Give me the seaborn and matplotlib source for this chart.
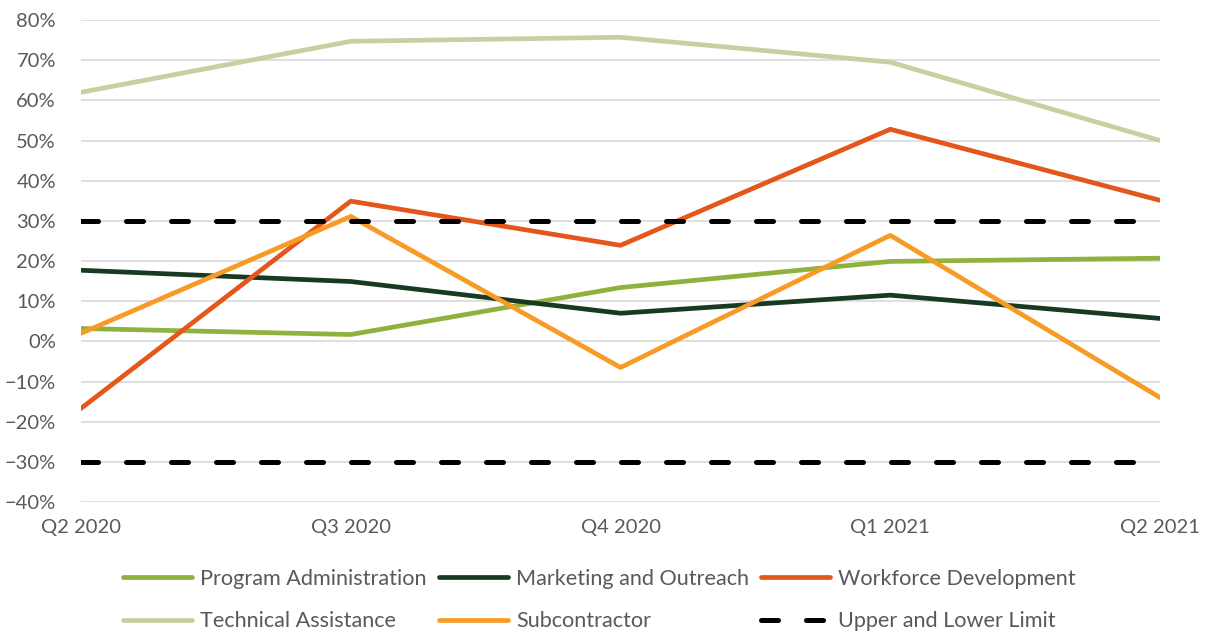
import pandas as pd
import numpy as np
import seaborn as sns
import matplotlib.pyplot as plt
from matplotlib.ticker import PercentFormatter

# quarters on the x axis
quarters = ["Q2 2020", "Q3 2020", "Q4 2020", "Q1 2021", "Q2 2021"]

# percentage values
program_admin = [3.2, 1.7, 13.4, 19.9, 20.7]
marketing = [17.7, 14.9, 7.0, 11.5, 5.7]
workforce = [-16.7, 34.9, 23.9, 52.8, 35.1]
technical = [62.0, 74.7, 75.7, 69.5, 50.0]
subcontractor = [2.0, 31.1, -6.5, 26.4, -14.0]
upper_limit = [30, 30, 30, 30, 30]
lower_limit = [-30, -30, -30, -30, -30]

series = {
    "Program Administration": (program_admin, "#8fb13e"),
    "Marketing and Outreach": (marketing, "#183a21"),
    "Workforce Development": (workforce, "#e4561a"),
    "Technical Assistance": (technical, "#c4d1a1"),
    "Subcontractor": (subcontractor, "#f89a26"),
}

sns.set_theme(style="white")
plt.rcParams["font.family"] = ["Lato", "DejaVu Sans"]
text_col = "#595959"

fig = plt.figure(figsize=(12.05, 6.33), dpi=100)
ax = fig.add_axes([0.0672, 0.2069, 0.8955, 0.7615])

x = np.arange(len(quarters))
for name, (vals, col) in series.items():
    df = pd.DataFrame({"q": x, "v": vals})
    sns.lineplot(data=df, x="q", y="v", ax=ax, color=col, linewidth=3.4,
                 label=name, solid_capstyle="round", solid_joinstyle="round")

for i, lim in enumerate([upper_limit, lower_limit]):
    df = pd.DataFrame({"q": x, "v": lim})
    sns.lineplot(data=df, x="q", y="v", ax=ax, color="black", linewidth=3.6,
                 dashes=False, label="Upper and Lower Limit" if i == 0 else None)
for ln in ax.lines[-2:]:
    ln.set_linestyle((0, (3.4, 5.6)))
    ln.set_dash_capstyle("round")

ax.set_xlim(0, 4)
ax.set_ylim(-40, 80)
ax.set_yticks(np.arange(-40, 81, 10))
ax.yaxis.set_major_formatter(PercentFormatter(decimals=0))
ax.set_xticks(x)
ax.set_xticklabels(quarters)
ax.set_xlabel("")
ax.set_ylabel("")
ax.grid(axis="y", color="#d9d9d9", linewidth=1.2)
ax.set_axisbelow(True)
for s in ax.spines.values():
    s.set_visible(False)
ax.tick_params(axis="both", length=0, labelsize=14.5, labelcolor=text_col)
ax.tick_params(axis="y", pad=18)
ax.tick_params(axis="x", pad=12)

h, l = ax.get_legend_handles_labels()
order = [0, 3, 1, 4, 2, 5]
leg = ax.legend([h[i] for i in order], [l[i] for i in order], ncol=3,
                loc="upper left", bbox_to_anchor=(0.021, -0.0975), frameon=False,
                fontsize=15.6, handlelength=3.2, handletextpad=0.36,
                columnspacing=0.55, labelspacing=1.05)
for t in leg.get_texts():
    t.set_color(text_col)

fig.savefig("out.png", dpi=100)
